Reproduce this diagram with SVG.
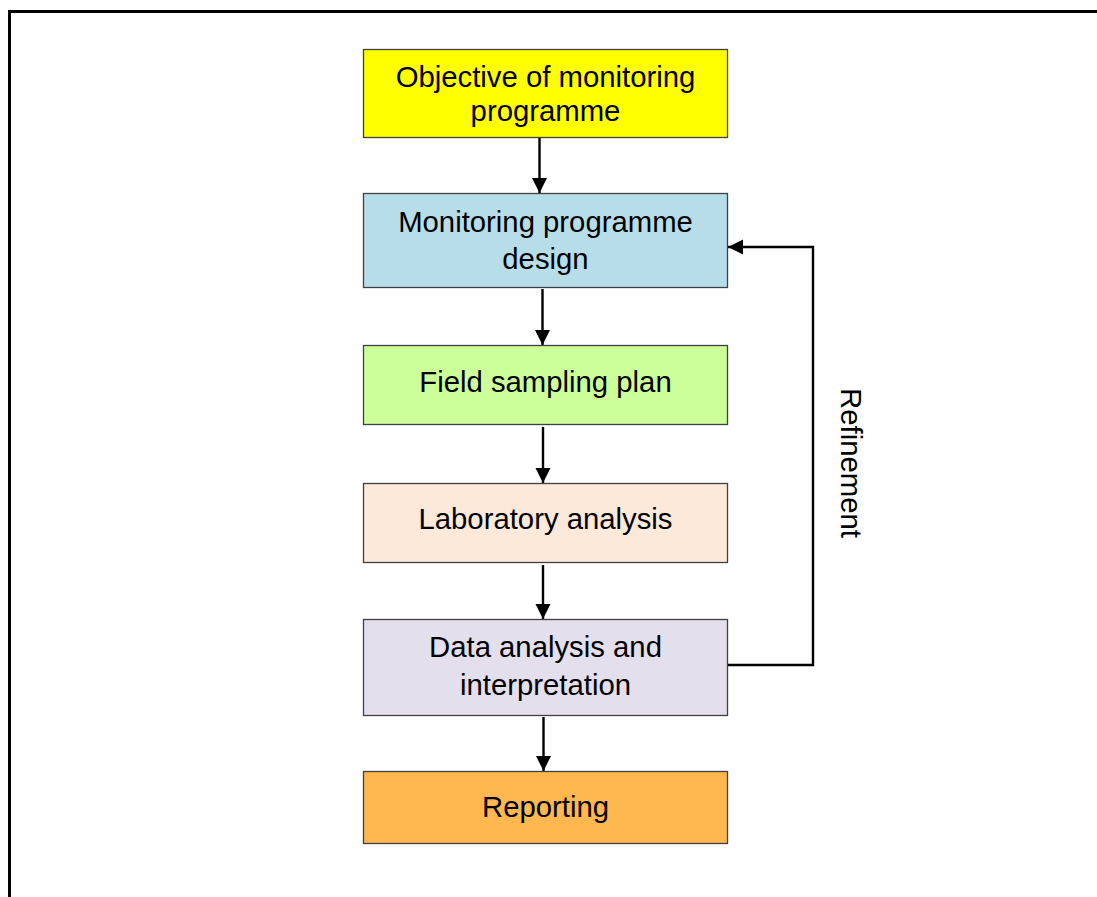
<svg xmlns="http://www.w3.org/2000/svg" width="1097" height="897" viewBox="0 0 1097 897">
<defs>
<style>
.box{stroke:#404040;stroke-width:1.3}
.t{font-family:"Liberation Sans",Arial,sans-serif;font-size:29.3px;fill:#000;text-anchor:middle}
.c{stroke:#000;stroke-width:2.4;fill:none}
</style>
<marker id="ah" markerWidth="16" markerHeight="16" refX="15" refY="7.5" orient="auto" markerUnits="userSpaceOnUse" viewBox="0 0 16 16">
<path d="M0,0 L15,7.5 L0,15 Z" fill="#000"/>
</marker>
</defs>
<rect width="1097" height="897" fill="#fff"/>
<path d="M9.5,897 V11.5 H1097" fill="none" stroke="#000" stroke-width="3"/>
<g id="n1"><rect class="box" x="363.5" y="49.5" width="364" height="88" fill="#FFFF00"/><text class="t" x="545.5" y="87">Objective of monitoring</text><text class="t" x="545.5" y="121">programme</text></g>
<g id="n2"><rect class="box" x="363.5" y="193.5" width="364" height="94" fill="#B7DEE8"/><text class="t" x="545.5" y="231.5">Monitoring programme</text><text class="t" x="545.5" y="269">design</text></g>
<g id="n3"><rect class="box" x="363.5" y="345.5" width="364" height="79" fill="#CCFF99"/><text class="t" x="545.5" y="391.5">Field sampling plan</text></g>
<g id="n4"><rect class="box" x="363.5" y="483.5" width="364" height="79" fill="#FDE9D9"/><text class="t" x="545.5" y="529">Laboratory analysis</text></g>
<g id="n5"><rect class="box" x="363.5" y="619.5" width="364" height="96" fill="#E4DFEC"/><text class="t" x="545.5" y="657">Data analysis and</text><text class="t" x="545.5" y="695">interpretation</text></g>
<g id="n6"><rect class="box" x="363.5" y="771.5" width="364" height="72" fill="#FFB74F"/><text class="t" x="545.5" y="817">Reporting</text></g>
<g id="connectors">
<line class="c" x1="539.5" y1="138" x2="539.5" y2="193" marker-end="url(#ah)"/>
<line class="c" x1="542.5" y1="289" x2="542.5" y2="345" marker-end="url(#ah)"/>
<line class="c" x1="543" y1="427" x2="543" y2="483" marker-end="url(#ah)"/>
<line class="c" x1="543" y1="565" x2="543" y2="619" marker-end="url(#ah)"/>
<line class="c" x1="543.5" y1="717" x2="543.5" y2="771" marker-end="url(#ah)"/>
<path class="c" d="M728,665 H813 V247 H728" marker-end="url(#ah)"/>
<text class="t" transform="translate(841,463) rotate(90)" x="0" y="0">Refinement</text>
</g>
</svg>
